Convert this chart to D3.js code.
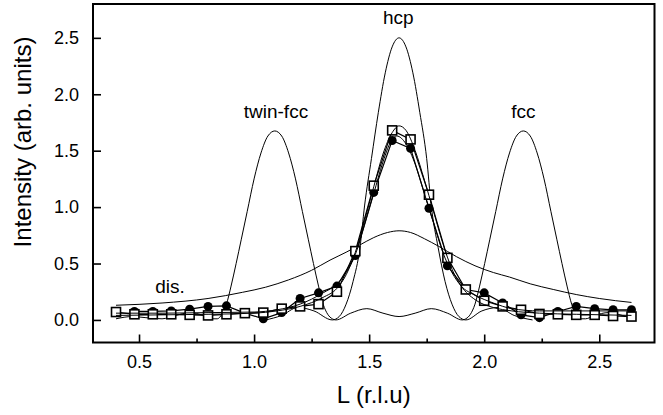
<!DOCTYPE html>
<html>
<head>
<meta charset="utf-8">
<script src="https://cdn.jsdelivr.net/npm/d3@7/dist/d3.min.js"></script>
<style>
  body { margin: 0; background: #fff; }
  svg { font-family: "Liberation Sans", Arial, Helvetica, sans-serif; }
</style>
</head>
<body>
<div id="chart"></div>
<script>
// tick values
var xTicks = [0.5, 1.0, 1.5, 2.0, 2.5];
var xMinorTicks = [0.75, 1.25, 1.75, 2.25];
var yTicks = [0.0, 0.5, 1.0, 1.5, 2.0, 2.5];

// measured points - filled circles
var circL = [0.48, 0.56, 0.64, 0.72, 0.80, 0.88, 0.96, 1.04, 1.12, 1.20, 1.28, 1.36, 1.44, 1.52,
             1.60, 1.68, 1.76, 1.84, 1.92, 2.00, 2.08, 2.16, 2.24, 2.32, 2.40, 2.48, 2.56, 2.64];
var circI = [0.075, 0.075, 0.08, 0.095, 0.12, 0.125, 0.06, 0.01, 0.065, 0.19, 0.24, 0.30, 0.57, 1.13,
             1.59, 1.52, 0.99, 0.48, 0.27, 0.24, 0.15, 0.045, 0.02, 0.075, 0.12, 0.10, 0.09, 0.09];

// measured points - open squares
var sqL = [0.40, 0.48, 0.56, 0.64, 0.72, 0.80, 0.88, 0.96, 1.04, 1.12, 1.20, 1.28, 1.36, 1.44, 1.52,
           1.60, 1.68, 1.76, 1.84, 1.92, 2.00, 2.08, 2.16, 2.24, 2.32, 2.40, 2.48, 2.56, 2.64];
var sqI = [0.07, 0.05, 0.05, 0.05, 0.045, 0.04, 0.05, 0.06, 0.065, 0.10, 0.12, 0.14, 0.25, 0.61, 1.19,
           1.68, 1.60, 1.11, 0.55, 0.27, 0.17, 0.12, 0.09, 0.053, 0.05, 0.045, 0.045, 0.035, 0.03];

// fitted curves through the data
var fitAL = [0.40, 0.60, 0.80, 1.00, 1.10, 1.20, 1.30, 1.36, 1.40, 1.44, 1.48, 1.52, 1.56, 1.60, 1.63,
             1.66, 1.70, 1.74, 1.78, 1.82, 1.86, 1.90, 1.96, 2.04, 2.12, 2.24, 2.40, 2.64];
var fitAI = [0.04, 0.045, 0.05, 0.06, 0.08, 0.12, 0.20, 0.28, 0.40, 0.60, 0.88, 1.18, 1.47, 1.66, 1.72,
             1.68, 1.50, 1.24, 0.96, 0.68, 0.45, 0.30, 0.18, 0.11, 0.08, 0.06, 0.05, 0.04];
var fitBL = [0.40, 0.60, 0.80, 1.00, 1.10, 1.20, 1.30, 1.36, 1.40, 1.44, 1.48, 1.52, 1.56, 1.60, 1.62,
             1.66, 1.70, 1.74, 1.78, 1.82, 1.86, 1.90, 1.96, 2.04, 2.12, 2.24, 2.40, 2.64];
var fitBI = [0.06, 0.06, 0.065, 0.07, 0.09, 0.14, 0.24, 0.32, 0.42, 0.58, 0.84, 1.12, 1.40, 1.60, 1.63,
             1.56, 1.38, 1.12, 0.86, 0.60, 0.42, 0.30, 0.22, 0.15, 0.10, 0.08, 0.08, 0.08];

// simulated profiles
var hcpL = [1.05, 1.12, 1.19, 1.26, 1.34, 1.37, 1.40, 1.43, 1.46, 1.48, 1.51, 1.54, 1.57, 1.60, 1.63,
            1.66, 1.69, 1.72, 1.75, 1.77, 1.80, 1.83, 1.86, 1.89, 1.92, 1.99, 2.06, 2.13, 2.21];
var hcpI = [0.00, 0.04, 0.11, 0.08, 0.00, 0.03, 0.14, 0.34, 0.64, 1.01, 1.43, 1.84, 2.19, 2.42, 2.50,
            2.42, 2.19, 1.84, 1.43, 1.01, 0.64, 0.34, 0.14, 0.03, 0.00, 0.08, 0.11, 0.04, 0.00];

// twin-fcc + fcc profile (one trace)
var fccL = [0.40, 0.47, 0.53, 0.60, 0.66, 0.72, 0.78, 0.82, 0.84, 0.86, 0.88, 0.90, 0.922, 0.944, 0.97,
            1.00, 1.03, 1.06, 1.09, 1.12, 1.15, 1.18, 1.21, 1.236, 1.258, 1.28, 1.30, 1.32, 1.34, 1.355,
            1.42, 1.49, 1.56, 1.63, 1.70, 1.77, 1.84, 1.905,
            1.92, 1.94, 1.96, 1.98, 2.002, 2.024, 2.05, 2.08, 2.11, 2.14, 2.17, 2.20, 2.23, 2.26,
            2.29, 2.316, 2.338, 2.36, 2.38, 2.40, 2.42, 2.44, 2.48, 2.54, 2.60, 2.64];
var fccI = [0.01, 0.03, 0.02, 0.01, 0.04, 0.065, 0.04, 0.01, 0.01, 0.05, 0.14, 0.30, 0.50, 0.71, 0.96,
            1.25, 1.48, 1.63, 1.675, 1.63, 1.48, 1.25, 0.96, 0.71, 0.50, 0.30, 0.14, 0.05, 0.01, 0.00,
            0.06, 0.10, 0.06, 0.03, 0.06, 0.10, 0.06, 0.00,
            0.01, 0.05, 0.14, 0.30, 0.50, 0.71, 0.96, 1.25, 1.48, 1.63, 1.675, 1.63, 1.48, 1.25,
            0.96, 0.71, 0.50, 0.30, 0.14, 0.05, 0.01, 0.01, 0.04, 0.065, 0.04, 0.02];

var disL = [0.40, 0.60, 0.80, 0.95, 1.05, 1.15, 1.25, 1.33, 1.40, 1.46, 1.52, 1.58, 1.63, 1.68, 1.74,
            1.80, 1.88, 1.96, 2.04, 2.11, 2.20, 2.30, 2.40, 2.50, 2.64];
var disI = [0.13, 0.15, 0.19, 0.245, 0.29, 0.355, 0.44, 0.53, 0.60, 0.665, 0.73, 0.775, 0.79, 0.775, 0.72,
            0.655, 0.56, 0.48, 0.42, 0.38, 0.32, 0.27, 0.225, 0.19, 0.155];

// labels
var peakLabels = [
  {text: "hcp", L: 1.627, I: 2.62, anchor: "middle"},
  {text: "twin-fcc", L: 1.095, I: 1.79, anchor: "middle"},
  {text: "fcc", L: 2.17, I: 1.79, anchor: "middle"},
  {text: "dis.", L: 0.57, I: 0.24, anchor: "start"}
];

function zip(a, b) { return a.map(function(v, i) { return [v, b[i]]; }); }

var margin = {top: 4, right: 8.5, bottom: 72.5, left: 93},
    width = 663 - margin.left - margin.right,
    height = 415 - margin.top - margin.bottom;

var svg = d3.select("#chart")
  .append("svg")
    .attr("width", 663)
    .attr("height", 415)
  .append("g")
    .attr("transform", "translate(" + margin.left + "," + margin.top + ")");

var x = d3.scaleLinear().domain([0.3, 2.74]).range([0, width]);
var y = d3.scaleLinear().domain([-0.2, 2.8]).range([height, 0]);

svg.append("clipPath").attr("id", "clip")
  .append("rect").attr("width", width).attr("height", height);

var plot = svg.append("g").attr("clip-path", "url(#clip)");

var smooth = d3.line()
  .x(function(d) { return x(d[0]); })
  .y(function(d) { return y(d[1]); })
  .curve(d3.curveMonotoneX);
var straight = d3.line()
  .x(function(d) { return x(d[0]); })
  .y(function(d) { return y(d[1]); });

// simulated curves
[zip(disL, disI), zip(hcpL, hcpI), zip(fccL, fccI)].forEach(function(c) {
  plot.append("path").attr("d", smooth(c))
    .attr("fill", "none").attr("stroke", "#000").attr("stroke-width", 1);
});

// data connecting lines
var circData = zip(circL, circI), sqData = zip(sqL, sqI);
plot.append("path").attr("d", straight(circData))
  .attr("fill", "none").attr("stroke", "#000").attr("stroke-width", 1.2);
plot.append("path").attr("d", straight(sqData))
  .attr("fill", "none").attr("stroke", "#000").attr("stroke-width", 1.2);

// circles
plot.selectAll("circle.pt").data(circData).enter().append("circle")
  .attr("class", "pt")
  .attr("cx", function(d) { return x(d[0]); })
  .attr("cy", function(d) { return y(d[1]); })
  .attr("r", 4.5)
  .attr("fill", "#000");

// squares
plot.selectAll("rect.pt").data(sqData).enter().append("rect")
  .attr("class", "pt")
  .attr("x", function(d) { return x(d[0]) - 4.5; })
  .attr("y", function(d) { return y(d[1]) - 4.5; })
  .attr("width", 9).attr("height", 9)
  .attr("fill", "#fff").attr("stroke", "#000").attr("stroke-width", 1.6);

// fits on top
[zip(fitAL, fitAI), zip(fitBL, fitBI)].forEach(function(c) {
  plot.append("path").attr("d", smooth(c))
    .attr("fill", "none").attr("stroke", "#000").attr("stroke-width", 1);
});

// axes
var xAxis = svg.append("g")
  .attr("transform", "translate(0," + height + ")")
  .call(d3.axisBottom(x).tickValues(xTicks).tickSize(-8).tickPadding(12.5)
        .tickFormat(d3.format(".1f")));
var xMinor = svg.append("g")
  .attr("transform", "translate(0," + height + ")")
  .call(d3.axisBottom(x).tickValues(xMinorTicks).tickSize(-4).tickFormat(""));
var yAxis = svg.append("g")
  .call(d3.axisLeft(y).tickValues(yTicks).tickSize(-8).tickPadding(14)
        .tickFormat(d3.format(".1f")));

[xAxis, xMinor, yAxis].forEach(function(a) {
  a.select(".domain").remove();
  a.selectAll("line").attr("stroke", "#000").attr("stroke-width", 1.6);
  a.selectAll("text").attr("fill", "#000").style("font-size", "18px")
    .style("font-family", "'Liberation Sans', Arial, sans-serif");
});

// frame
svg.append("rect")
  .attr("width", width).attr("height", height)
  .attr("fill", "none").attr("stroke", "#000").attr("stroke-width", 2);

// peak labels
svg.selectAll("text.peak").data(peakLabels).enter().append("text")
  .attr("class", "peak")
  .attr("x", function(d) { return x(d.L); })
  .attr("y", function(d) { return y(d.I); })
  .attr("text-anchor", function(d) { return d.anchor; })
  .style("font-size", "19px")
  .text(function(d) { return d.text; });

// axis titles
svg.append("text")
  .attr("x", width / 2)
  .attr("y", height + 60)
  .attr("text-anchor", "middle")
  .style("font-size", "24px")
  .text("L (r.l.u)");

svg.append("text")
  .attr("transform", "translate(" + (31 - margin.left) + "," + (142 - margin.top) + ") rotate(-90)")
  .attr("text-anchor", "middle")
  .style("font-size", "24px")
  .text("Intensity (arb. units)");
</script>
</body>
</html>
